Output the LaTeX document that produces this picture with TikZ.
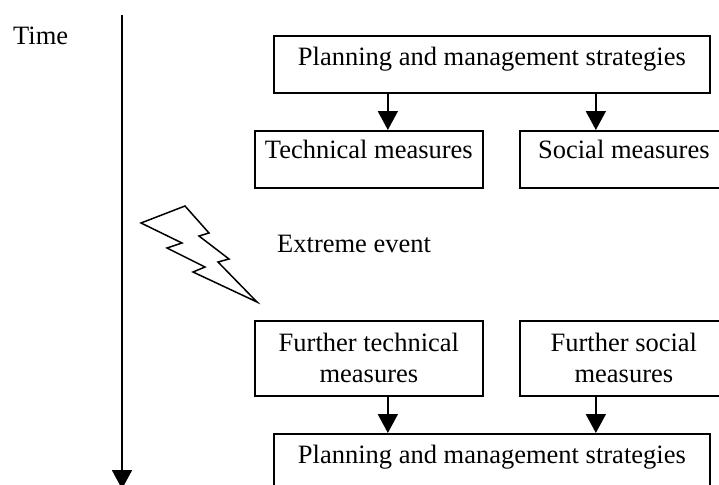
\documentclass[tikz,border=0pt]{standalone}
\usepackage{fontspec}
\setmainfont{Liberation Serif}
\usetikzlibrary{arrows.meta}
\begin{document}
\begin{tikzpicture}[x=1pt,y=-1pt,
  every node/.style={font=\fontsize{26.5}{31}\selectfont},
  box/.style={draw,line width=1.7pt,inner sep=0pt,anchor=north west,align=center},
  arr/.style={line width=1.8pt,-{Triangle[width=20pt,length=19pt]}},
  lbl/.style={inner sep=0pt,anchor=base west}]
\useasboundingbox (0,0) rectangle (719,484);
\clip (0,0) rectangle (719,484);
% timeline
\coordinate (tl) at (122,15);
\coordinate (tb) at (122,489);
\draw[arr] (tl) -- (tb);
\node[lbl] (time) at (13,45) {Time};
% boxes
\node[box,minimum width=436pt,text height=30pt,text depth=27pt] (top) at (273,35) {Planning and management strategies};
\node[box,minimum width=228pt,text height=28pt,text depth=29pt] (tech) at (254,130) {Technical measures};
\node[box,minimum width=208pt,text height=28pt,text depth=29pt] (soc) at (519,130) {Social measures};
\node[box,minimum width=228pt,minimum height=75pt,anchor=north west] (ftech) at (254,320) {Further technical\\measures};
\node[box,minimum width=208pt,minimum height=75pt,anchor=north west] (fsoc) at (519,320) {Further social\\measures};
\node[box,minimum width=436pt,text height=30pt,text depth=27pt] (bot) at (273,433) {Planning and management strategies};
% arrows
\draw[arr] ([xshift=-104pt]top.south) -- ([xshift=-104pt]top.south |- tech.north);
\draw[arr] ([xshift=104pt]top.south) -- ([xshift=104pt]top.south |- soc.north);
\draw[arr] ([xshift=-104pt]bot.north |- ftech.south) -- ([xshift=-104pt]bot.north);
\draw[arr] ([xshift=104pt]bot.north |- fsoc.south) -- ([xshift=104pt]bot.north);
% extreme event
\node[lbl] (ev) at (277,252) {Extreme event};
\draw[line width=1.5pt,line join=miter] (141,223) -- (185,206) -- (209,233) -- (199,236) -- (229,259) -- (218,262) -- (257,302) -- (193,272) -- (205,267) -- (167,248) -- (182,243) -- cycle;
\end{tikzpicture}
\end{document}
